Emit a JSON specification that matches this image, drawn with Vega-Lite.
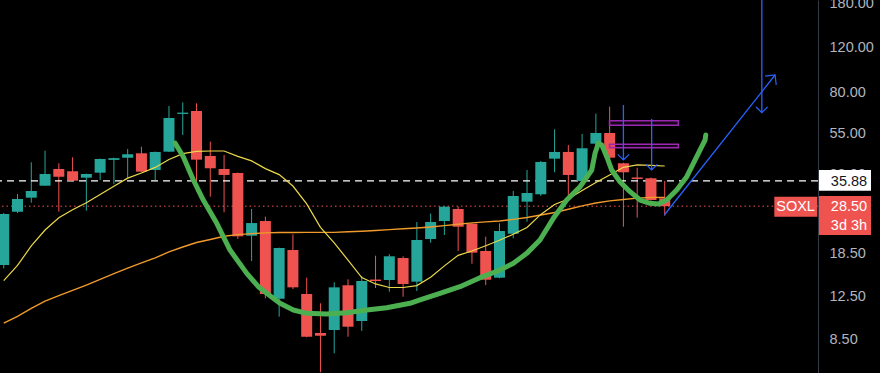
{
  "$schema": "https://vega.github.io/schema/vega-lite/v6.json",
  "width": 818,
  "height": 373,
  "autosize": {"type": "none"},
  "padding": {"left": 0, "top": 0, "right": 62, "bottom": 0},
  "background": "#000000",
  "config": {"view": {"stroke": null}},
  "datasets": {
    "candles": [
      {"i":1,"open":16.70,"high":26.8,"low":16.20,"close":26.55,"maf":14.49,"mas":9.84},
      {"i":2,"open":27.11,"high":31.84,"low":26.79,"close":30.43,"maf":16.63,"mas":10.47},
      {"i":3,"open":30.79,"high":42.47,"low":29.42,"close":32.72,"maf":19.86,"mas":11.26},
      {"i":4,"open":34.33,"high":47.2,"low":34.23,"close":38.19,"maf":22.95,"mas":12.02},
      {"i":5,"open":39.96,"high":42.09,"low":27.11,"close":37.26,"maf":25.64,"mas":12.65},
      {"i":6,"open":39.14,"high":44.45,"low":35.8,"close":35.93,"maf":27.57,"mas":13.25},
      {"i":7,"open":36.92,"high":38.3,"low":27.36,"close":38.19,"maf":29.41,"mas":13.92},
      {"i":8,"open":38.64,"high":43.9,"low":36.16,"close":43.77,"maf":31.72,"mas":14.66},
      {"i":9,"open":43.4,"high":44.3,"low":34.77,"close":44.1,"maf":34.17,"mas":15.45},
      {"i":10,"open":44.29,"high":47.93,"low":36.92,"close":45.68,"maf":36.78,"mas":16.24},
      {"i":11,"open":46.09,"high":48.93,"low":38.8,"close":38.99,"maf":38.52,"mas":17.03},
      {"i":12,"open":39.6,"high":46.8,"low":36.16,"close":46.65,"maf":40.54,"mas":17.82},
      {"i":13,"open":46.77,"high":70.84,"low":46.6,"close":63.52,"maf":43.59,"mas":18.80},
      {"i":14,"open":65.9,"high":73.25,"low":54.44,"close":66.7,"maf":45.95,"mas":19.66},
      {"i":15,"open":67.68,"high":72.59,"low":32.52,"close":43.49,"maf":46.92,"mas":20.48},
      {"i":16,"open":44.98,"high":51.21,"low":31.07,"close":40.22,"maf":47.05,"mas":21.05},
      {"i":17,"open":39.96,"high":45.40,"low":26.96,"close":37.85,"maf":47.05,"mas":21.69},
      {"i":18,"open":38.53,"high":38.7,"low":21.15,"close":21.67,"maf":44.80,"mas":22.01},
      {"i":19,"open":21.79,"high":27.78,"low":17.31,"close":24.45,"maf":43.01,"mas":22.21},
      {"i":20,"open":24.90,"high":25.91,"low":12.33,"close":12.83,"maf":40.10,"mas":22.37},
      {"i":21,"open":12.29,"high":19.55,"low":10.44,"close":19.49,"maf":37.97,"mas":22.43},
      {"i":22,"open":19.14,"high":22.07,"low":13.42,"close":13.63,"maf":34.23,"mas":22.45},
      {"i":23,"open":12.83,"high":14.88,"low":8.65,"close":8.70,"maf":29.09,"mas":22.47},
      {"i":24,"open":9.00,"high":11.79,"low":6.3,"close":8.78,"maf":23.52,"mas":22.47},
      {"i":25,"open":9.25,"high":14.27,"low":7.48,"close":13.63,"maf":20.42,"mas":22.47},
      {"i":26,"open":13.89,"high":14.66,"low":8.70,"close":9.53,"maf":17.45,"mas":22.60},
      {"i":27,"open":10.04,"high":15.11,"low":9.17,"close":14.44,"maf":14.89,"mas":22.70},
      {"i":28,"open":14.63,"high":18.17,"low":13.55,"close":14.44,"maf":14.06,"mas":22.85},
      {"i":29,"open":14.57,"high":18.41,"low":13.10,"close":18.07,"maf":13.61,"mas":23.03},
      {"i":30,"open":17.79,"high":18.07,"low":12.52,"close":14.05,"maf":13.61,"mas":23.20},
      {"i":31,"open":14.35,"high":24.68,"low":13.18,"close":20.96,"maf":13.85,"mas":23.37},
      {"i":32,"open":21.15,"high":26.64,"low":20.45,"close":24.68,"maf":14.93,"mas":23.60},
      {"i":33,"open":24.90,"high":28.5,"low":21.93,"close":28.37,"maf":16.57,"mas":23.88},
      {"i":34,"open":27.78,"high":28.4,"low":18.97,"close":23.65,"maf":18.23,"mas":24.18},
      {"i":35,"open":24.30,"high":24.4,"low":16.89,"close":18.68,"maf":18.96,"mas":24.48},
      {"i":36,"open":18.97,"high":21.60,"low":13.92,"close":14.61,"maf":19.89,"mas":24.70},
      {"i":37,"open":14.88,"high":24.39,"low":14.8,"close":22.74,"maf":20.91,"mas":24.90},
      {"i":38,"open":22.19,"high":32.72,"low":21.28,"close":31.27,"maf":22.07,"mas":25.29},
      {"i":39,"open":29.69,"high":39.6,"low":24.75,"close":32.13,"maf":23.47,"mas":25.71},
      {"i":40,"open":31.75,"high":42.98,"low":31.27,"close":42.59,"maf":26.44,"mas":26.30},
      {"i":41,"open":43.89,"high":57.32,"low":38.78,"close":46.65,"maf":28.93,"mas":26.90},
      {"i":42,"open":46.65,"high":49.70,"low":30.34,"close":37.85,"maf":30.42,"mas":27.72},
      {"i":43,"open":35.83,"high":54.93,"low":35.7,"close":48.24,"maf":32.89,"mas":28.57},
      {"i":44,"open":50.3,"high":66.06,"low":48.24,"close":55.43,"maf":35.34,"mas":29.33},
      {"i":45,"open":55.43,"high":70.39,"low":43.0,"close":44.29,"maf":37.83,"mas":29.90},
      {"i":46,"open":42.09,"high":42.3,"low":23.65,"close":38.78,"maf":40.58,"mas":30.30},
      {"i":47,"open":37.0,"high":40.44,"low":25.67,"close":36.5,"maf":41.51,"mas":30.66},
      {"i":48,"open":36.72,"high":37.0,"low":30.0,"close":30.15,"maf":41.31,"mas":30.83},
      {"i":49,"open":30.62,"high":35.83,"low":26.14,"close":28.5,"maf":41.06,"mas":30.88}
    ],
    "green": [
      {"ord":1,"i":13.44,"price":50.60},{"ord":2,"i":14.04,"price":44.68},{"ord":3,"i":14.77,"price":36.15},
      {"ord":4,"i":15.49,"price":30.14},{"ord":5,"i":16.47,"price":24.39},{"ord":6,"i":17.43,"price":19.13},
      {"ord":7,"i":18.65,"price":15.48},{"ord":8,"i":19.49,"price":13.71},{"ord":9,"i":20.10,"price":12.91},
      {"ord":10,"i":21.06,"price":11.79},{"ord":11,"i":22.03,"price":11.09},{"ord":12,"i":23.00,"price":10.76},
      {"ord":13,"i":24.45,"price":10.69},{"ord":14,"i":25.91,"price":10.82},{"ord":15,"i":27.36,"price":11.09},
      {"ord":16,"i":28.81,"price":11.33},{"ord":17,"i":30.50,"price":11.79},{"ord":18,"i":31.23,"price":12.15},
      {"ord":19,"i":32.68,"price":12.91},{"ord":20,"i":34.13,"price":13.71},{"ord":21,"i":35.59,"price":14.88},
      {"ord":22,"i":37.04,"price":15.95},{"ord":23,"i":38.01,"price":16.95},{"ord":24,"i":38.98,"price":18.56},
      {"ord":25,"i":39.94,"price":20.95},{"ord":26,"i":40.91,"price":25.52},{"ord":27,"i":41.88,"price":30.14},
      {"ord":28,"i":42.85,"price":34.02},{"ord":29,"i":43.70,"price":39.59},{"ord":30,"i":43.94,"price":46.07},
      {"ord":31,"i":44.18,"price":50.46},{"ord":32,"i":44.43,"price":49.69},{"ord":33,"i":44.79,"price":44.68},
      {"ord":34,"i":45.15,"price":39.59},{"ord":35,"i":45.75,"price":35.60},{"ord":36,"i":46.48,"price":32.51},
      {"ord":37,"i":47.21,"price":30.14},{"ord":38,"i":47.93,"price":29.25},{"ord":39,"i":48.54,"price":29.06},
      {"ord":40,"i":49.14,"price":30.14},{"ord":41,"i":49.87,"price":33.01},{"ord":42,"i":50.60,"price":37.25},
      {"ord":43,"i":51.08,"price":42.08},{"ord":44,"i":51.56,"price":47.48},{"ord":45,"i":51.93,"price":52.00},
      {"ord":46,"i":51.98,"price":54.42}
    ],
    "blue": [
      {"seg":"a","ord":1,"i":46.0,"price":71.48},{"seg":"a","ord":2,"i":46.0,"price":43.36},
      {"seg":"b","ord":1,"i":48.05,"price":62.94},{"seg":"b","ord":2,"i":48.05,"price":39.59},
      {"seg":"c","ord":1,"i":48.97,"price":26.30},{"seg":"c","ord":2,"i":57.01,"price":93.9},
      {"seg":"d","ord":1,"i":56.05,"price":190},{"seg":"d","ord":2,"i":56.05,"price":66.64}
    ],
    "headsDown": [
      {"i":46.0,"price":43.36},{"i":48.05,"price":39.59},{"i":56.05,"price":66.64}
    ],
    "headUp": [{"i":57.01,"price":93.9}],
    "zones": [
      {"i1":44.99,"i2":49.99,"p1":59.44,"p2":61.98},
      {"i1":44.99,"i2":49.99,"p1":48.49,"p2":50.0}
    ]
  },
  "layer": [
    {
      "data": {"name": "candles"},
      "mark": {"type": "rule", "strokeWidth": 1, "clip": true},
      "encoding": {
        "x": {"field": "i", "type": "quantitative", "scale": {"domain": [0.729, 60.13], "nice": false, "zero": false, "padding": 0}, "axis": null},
        "y": {
          "field": "low", "type": "quantitative",
          "scale": {"type": "log", "domain": [6.258, 185.6], "nice": false, "zero": false, "padding": 0},
          "axis": {
            "orient": "right", "values": [6, 8.5, 12.5, 18.5, 38, 55, 80, 120, 180],
            "format": ".2f", "labelColor": "#b2b5be", "labelFontSize": 14.5, "labelFont": "Liberation Sans",
            "ticks": false, "tickSize": 0, "labelPadding": 11, "domain": true, "domainColor": "#363a45",
            "grid": false, "title": null, "labelOverlap": false, "labelBound": false, "labelFlush": false
          }
        },
        "y2": {"field": "high"},
        "color": {"condition": {"test": "datum.close >= datum.open", "value": "#26a69a"}, "value": "#ef5350"}
      }
    },
    {
      "data": {"values": [{"price": 35.88}]},
      "mark": {"type": "rule", "color": "#ffffff", "strokeWidth": 1.2, "strokeDash": [7, 5]},
      "encoding": {"y": {"field": "price", "type": "quantitative", "axis": {"title": null}}}
    },
    {
      "data": {"values": [{"price": 28.5}]},
      "mark": {"type": "rule", "color": "#ef5350", "strokeWidth": 1, "strokeDash": [1.5, 3]},
      "encoding": {"y": {"field": "price", "type": "quantitative", "axis": {"title": null}}}
    },
    {
      "data": {"name": "candles"},
      "mark": {"type": "bar", "size": 11, "clip": true},
      "encoding": {
        "x": {"field": "i", "type": "quantitative", "axis": null},
        "y": {"field": "open", "type": "quantitative", "axis": {"title": null}},
        "y2": {"field": "close"},
        "color": {"condition": {"test": "datum.close >= datum.open", "value": "#26a69a"}, "value": "#ef5350"}
      }
    },
    {
      "data": {"name": "candles"},
      "mark": {"type": "line", "color": "#ef9a2a", "strokeWidth": 1.4, "clip": true},
      "encoding": {
        "x": {"field": "i", "type": "quantitative", "axis": null},
        "y": {"field": "mas", "type": "quantitative", "axis": {"title": null}}
      }
    },
    {
      "data": {"name": "candles"},
      "mark": {"type": "line", "color": "#ecd84a", "strokeWidth": 1.2, "clip": true},
      "encoding": {
        "x": {"field": "i", "type": "quantitative", "axis": null},
        "y": {"field": "maf", "type": "quantitative", "axis": {"title": null}}
      }
    },
    {
      "data": {"name": "zones"},
      "mark": {"type": "rect", "fill": "#9c27b0", "fillOpacity": 0.15, "stroke": "#9c27b0", "strokeWidth": 1.5},
      "encoding": {
        "x": {"field": "i1", "type": "quantitative", "axis": null},
        "x2": {"field": "i2"},
        "y": {"field": "p1", "type": "quantitative", "axis": {"title": null}},
        "y2": {"field": "p2"}
      }
    },
    {
      "data": {"name": "blue"},
      "mark": {"type": "line", "color": "#2962ff", "strokeWidth": 1.3, "clip": true},
      "encoding": {
        "x": {"field": "i", "type": "quantitative", "axis": null},
        "y": {"field": "price", "type": "quantitative", "axis": {"title": null}},
        "detail": {"field": "seg"},
        "order": {"field": "ord", "type": "quantitative"}
      }
    },
    {
      "data": {"name": "headsDown"},
      "mark": {"type": "point", "shape": "M-1,-1L0,0L1,-1", "filled": false, "stroke": "#2962ff", "strokeWidth": 1.2, "size": 130, "opacity": 1},
      "encoding": {
        "x": {"field": "i", "type": "quantitative", "axis": null},
        "y": {"field": "price", "type": "quantitative", "axis": {"title": null}}
      }
    },
    {
      "data": {"name": "headUp"},
      "mark": {"type": "point", "shape": "M-1,1L0,0L1,1", "filled": false, "stroke": "#2962ff", "strokeWidth": 1.2, "size": 200, "angle": 38, "opacity": 1},
      "encoding": {
        "x": {"field": "i", "type": "quantitative", "axis": null},
        "y": {"field": "price", "type": "quantitative", "axis": {"title": null}}
      }
    },
    {
      "data": {"name": "green"},
      "mark": {"type": "line", "color": "#4caf50", "strokeWidth": 5, "strokeCap": "round", "strokeJoin": "round"},
      "encoding": {
        "x": {"field": "i", "type": "quantitative", "axis": null},
        "y": {"field": "price", "type": "quantitative", "axis": {"title": null}},
        "order": {"field": "ord", "type": "quantitative"}
      }
    },
    {
      "data": {"values": [{"price": 28.5, "label": "SOXL"}]},
      "mark": {"type": "point", "shape": "M-1,-0.442L1,-0.442L1,0.488L-1,0.488Z", "filled": true, "fill": "#ef5350", "strokeWidth": 0, "size": 1849, "opacity": 1},
      "encoding": {
        "x": {"datum": 58.52, "type": "quantitative", "axis": null},
        "y": {"field": "price", "type": "quantitative", "axis": {"title": null}}
      }
    },
    {
      "data": {"values": [{"price": 28.5, "label": "SOXL"}]},
      "mark": {"type": "text", "color": "#ffffff", "font": "Liberation Sans", "fontSize": 14.5, "baseline": "middle", "align": "center", "dy": 1},
      "encoding": {
        "x": {"datum": 58.5, "type": "quantitative", "axis": null},
        "y": {"field": "price", "type": "quantitative", "axis": {"title": null}},
        "text": {"field": "label"}
      }
    },
    {
      "data": {"values": [{"price": 35.88, "label": "35.88"}]},
      "mark": {"type": "point", "shape": "M-1,-0.415L1,-0.415L1,0.381L-1,0.381Z", "filled": true, "fill": "#ffffff", "strokeWidth": 0, "size": 2704, "opacity": 1},
      "encoding": {
        "x": {"datum": 62.09, "type": "quantitative", "axis": null},
        "y": {"field": "price", "type": "quantitative", "axis": {"title": null}}
      }
    },
    {
      "data": {"values": [{"price": 35.88, "label": "35.88"}]},
      "mark": {"type": "text", "color": "#131722", "font": "Liberation Sans", "fontSize": 14.5, "baseline": "middle", "align": "center", "dy": 1},
      "encoding": {
        "x": {"datum": 62.38, "type": "quantitative", "axis": null},
        "y": {"field": "price", "type": "quantitative", "axis": {"title": null}},
        "text": {"field": "label"}
      }
    },
    {
      "data": {"values": [{"price": 28.5, "label": "28.50", "sub": "3d 3h"}]},
      "mark": {"type": "point", "shape": "M-1,-0.392L1,-0.392L1,1.108L-1,1.108Z", "filled": true, "fill": "#ef5350", "strokeWidth": 0, "size": 2704, "opacity": 1},
      "encoding": {
        "x": {"datum": 62.09, "type": "quantitative", "axis": null},
        "y": {"field": "price", "type": "quantitative", "axis": {"title": null}}
      }
    },
    {
      "data": {"values": [{"price": 28.5, "label": "28.50", "sub": "3d 3h"}]},
      "mark": {"type": "text", "color": "#ffffff", "font": "Liberation Sans", "fontSize": 14.5, "baseline": "middle", "align": "center", "dy": 1},
      "encoding": {
        "x": {"datum": 62.38, "type": "quantitative", "axis": null},
        "y": {"field": "price", "type": "quantitative", "axis": {"title": null}},
        "text": {"field": "label"}
      }
    },
    {
      "data": {"values": [{"price": 28.5, "label": "28.50", "sub": "3d 3h"}]},
      "mark": {"type": "text", "color": "#ffffff", "font": "Liberation Sans", "fontSize": 14.5, "baseline": "middle", "align": "center", "dy": 19.5},
      "encoding": {
        "x": {"datum": 62.38, "type": "quantitative", "axis": null},
        "y": {"field": "price", "type": "quantitative", "axis": {"title": null}},
        "text": {"field": "sub"}
      }
    }
  ]
}
